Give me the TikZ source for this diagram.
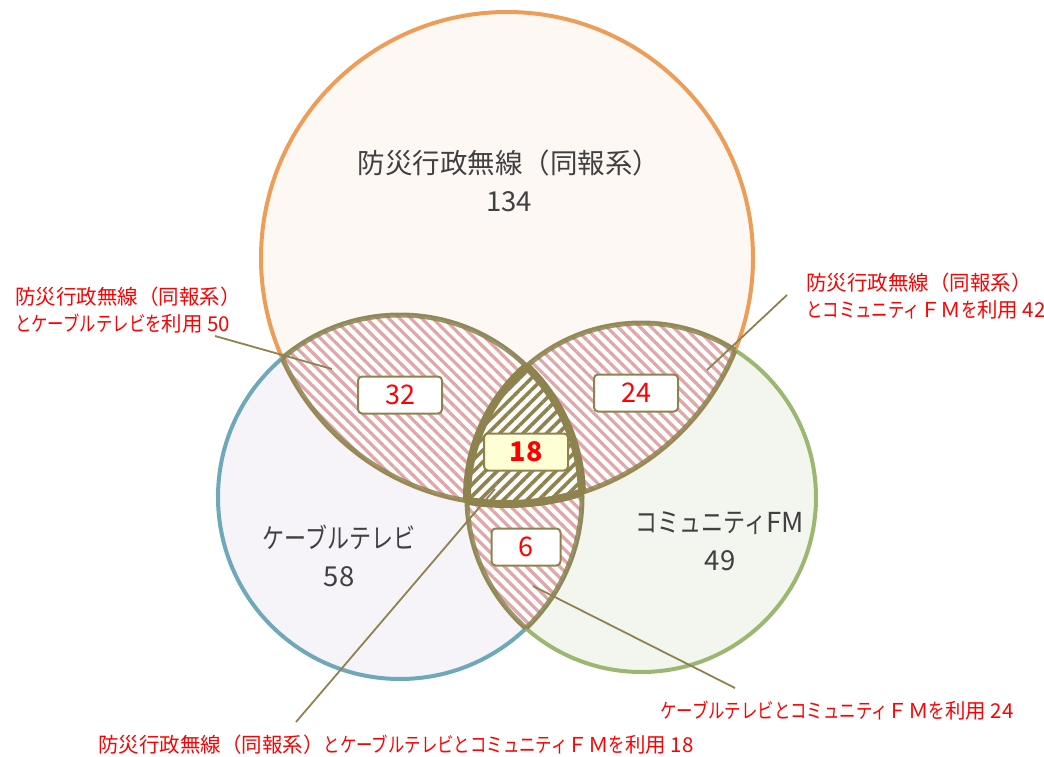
\documentclass[tikz,border=0pt]{standalone}
\usepackage{fontspec}
\setmainfont{Noto Sans CJK JP}
\newfontfamily\kn[FakeStretch=0.8]{Noto Sans CJK JP}
\usetikzlibrary{patterns.meta}
\definecolor{orangeline}{HTML}{EE9D58}
\definecolor{blueline}{HTML}{6EA8BA}
\definecolor{greenline}{HTML}{9BB770}
\definecolor{orangefill}{HTML}{FDF8F4}
\definecolor{bluefill}{HTML}{F6F4F8}
\definecolor{greenfill}{HTML}{F3F6EE}
\definecolor{olive}{HTML}{8E834F}
\definecolor{pinkstripe}{HTML}{E0A6A8}
\definecolor{labelred}{HTML}{FF0000}
\definecolor{textgray}{HTML}{404040}
\definecolor{paleyellow}{HTML}{FFFFD6}
\tikzset{
  bigtext/.style={font=\fontsize{27.5}{38}\selectfont, text=textgray, align=center, inner sep=0pt},
  redlabel/.style={font=\fontsize{20.5}{26.5}\selectfont, text=labelred, align=left, inner sep=0pt, anchor=west},
  numbox/.style={draw=olive, line width=2pt, fill=white, rounded corners=4pt, minimum width=84pt, minimum height=37pt, inner sep=0pt, text=labelred, font=\fontsize{27}{30}\selectfont},
  leader/.style={draw=olive, line width=1.8pt},
  pairhatch/.style={pattern={Lines[angle=-45,distance=7.8pt,line width=3.2pt]}, pattern color=pinkstripe},
  triplehatch/.style={pattern={Lines[angle=45,distance=8.3pt,line width=3.6pt]}, pattern color=olive},
  lensline/.style={draw=olive, line width=5pt, opacity=0.85},
  tripleline/.style={draw=olive, line width=8pt},
}
\begin{document}
\begin{tikzpicture}[x=1pt,y=-1pt]
\useasboundingbox (0,0) rectangle (1044,757);
\def\cO{(507,258) circle[radius=246pt]}
\def\cB{(400,497) circle[radius=182pt]}
\def\cG{(641.5,497.5) circle[radius=174.5pt]}
% base circles
\fill[orangefill] \cO;
\fill[bluefill] \cB;
\fill[greenfill] \cG;
\draw[orangeline, line width=4pt] \cO;
\draw[blueline, line width=4pt] \cB;
\draw[greenline, line width=4pt] \cG;
% pairwise lenses
\begin{scope}\clip \cB; \fill[white] \cO; \fill[pairhatch] \cO; \end{scope}
\begin{scope}\clip \cG; \fill[white] \cO; \fill[pairhatch] \cO; \end{scope}
\begin{scope}\clip \cG; \fill[white] \cB; \fill[pairhatch] \cB; \end{scope}
% lens outlines
\begin{scope}\clip \cB; \draw[lensline] \cO; \end{scope}
\begin{scope}\clip \cO; \draw[lensline] \cB; \end{scope}
\begin{scope}\clip \cG; \draw[lensline] \cO; \end{scope}
\begin{scope}\clip \cO; \draw[lensline] \cG; \end{scope}
\begin{scope}\clip \cG; \draw[lensline] \cB; \end{scope}
\begin{scope}\clip \cB; \draw[lensline] \cG; \end{scope}
% triple region
\begin{scope}\clip \cB; \clip \cG; \fill[white] \cO; \fill[triplehatch] \cO; \end{scope}
\begin{scope}\clip \cB; \clip \cG; \draw[tripleline] \cO; \end{scope}
\begin{scope}\clip \cO; \clip \cG; \draw[tripleline] \cB; \end{scope}
\begin{scope}\clip \cO; \clip \cB; \draw[tripleline] \cG; \end{scope}
% main labels
\node[bigtext] (tO) at (509,181) {防災行政無線（同報系）\\134};
\node[bigtext] (tB) at (339,556) {{\kn ケーブルテレビ}\\58};
\node[bigtext] (tG) at (720,541) {{\kn コミュニティ}FM\\49};
% number boxes
\node[numbox] (b32) at (400,395) {32};
\node[numbox] (b24) at (636,393) {24};
\node[numbox, fill=paleyellow, font=\fontsize{27}{30}\selectfont\bfseries] (b18) at (526,452) {18};
\node[numbox, minimum width=69pt] (b6) at (526,547) {6};
% red labels
\node[redlabel] (lOB) at (15,310) {防災行政無線（同報系）\\{\kn とケーブルテレビを}利用 50};
\node[redlabel] (lOG) at (806,296) {防災行政無線（同報系）\\{\kn とコミュニティ}ＦＭ{\kn を}利用 42};
\node[redlabel] (lBG) at (660,711) {{\kn ケーブルテレビとコミュニティ}ＦＭ{\kn を}利用 24};
\node[redlabel] (lOBG) at (98,745) {防災行政無線（同報系）{\kn とケーブルテレビとコミュニティ}ＦＭ{\kn を}利用 18};
% leader lines
\coordinate (sOB) at (215,336);
\coordinate (eOB) at (332,369);
\coordinate (sOG) at (787,295);
\coordinate (eOG) at (707,370);
\coordinate (sBG) at (735,688);
\coordinate (eBG) at (533,586);
\coordinate (sOBG) at (296,722);
\coordinate (eOBG) at (495,489);
\draw[leader] (sOB) -- (eOB);
\draw[leader] (sOG) -- (eOG);
\draw[leader] (sBG) -- (eBG);
\draw[leader] (sOBG) -- (eOBG);
\end{tikzpicture}
\end{document}
